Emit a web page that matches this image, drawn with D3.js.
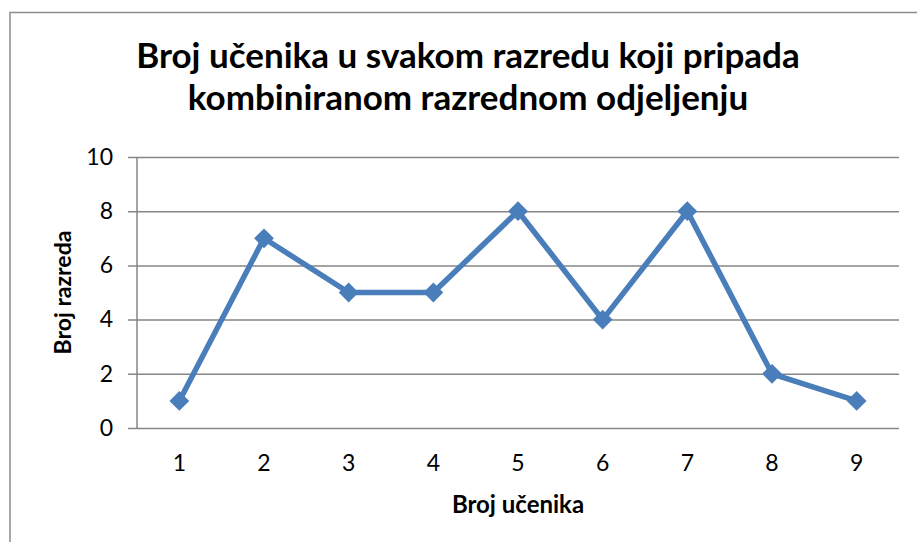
<!DOCTYPE html>
<html>
<head>
<meta charset="utf-8">
<script src="https://cdn.jsdelivr.net/npm/d3@7"></script>
<style>
  body { margin: 0; background: #fff; }
  text { font-family: Lato, "Open Sans", sans-serif; fill: #000; }
</style>
</head>
<body>
<svg id="chart" width="917" height="542"></svg>
<script>
// data
var categories = ["1", "2", "3", "4", "5", "6", "7", "8", "9"];
var values = [1, 7, 5, 5, 8, 4, 8, 2, 1];
var yTicks = [0, 2, 4, 6, 8, 10];
var titleLines = ["Broj učenika u svakom razredu koji pripada", "kombiniranom razrednom odjeljenju"];
var xTitle = "Broj učenika";
var yTitle = "Broj razreda";

var margin = { left: 137, right: 18, top: 157, bottom: 114 };
var width = 917 - margin.left - margin.right;
var height = 542 - margin.top - margin.bottom;

var svg = d3.select("#chart");

// chart border (runs off the right and bottom edge)
svg.append("rect")
    .attr("x", 10).attr("y", 12.5)
    .attr("width", 940).attr("height", 560)
    .attr("fill", "none")
    .attr("stroke", "#8c8c8c")
    .attr("stroke-width", 1.5);

// title
svg.append("text")
    .attr("x", 468)
    .attr("y", 68)
    .attr("text-anchor", "middle")
    .attr("font-size", "35px")
    .attr("font-weight", "bold")
  .selectAll("tspan")
  .data(titleLines)
  .enter().append("tspan")
    .attr("x", 468)
    .attr("dy", function(d, i) { return i === 0 ? 0 : 42; })
    .text(function(d) { return d; });

var g = svg.append("g")
    .attr("transform", "translate(" + margin.left + "," + margin.top + ")");

var x = d3.scaleBand().domain(categories).range([0, width]);
var y = d3.scaleLinear().domain([0, 10]).range([height, 0]);

// y axis with gridlines
var yAxis = g.append("g")
    .call(d3.axisLeft(y).tickValues(yTicks).tickSize(-width).tickPadding(24));
yAxis.select(".domain").remove();
yAxis.selectAll(".tick line")
    .attr("x1", -9)
    .attr("stroke", "#868686")
    .attr("stroke-width", 1.5);
yAxis.selectAll(".tick text")
    .attr("font-size", "23px")
    .attr("font-family", "Lato, sans-serif");

// vertical axis line
g.append("line")
    .attr("x1", 0).attr("x2", 0)
    .attr("y1", 0).attr("y2", height)
    .attr("stroke", "#868686")
    .attr("stroke-width", 1.5);

// x axis
var xAxis = g.append("g")
    .attr("transform", "translate(0," + height + ")")
    .call(d3.axisBottom(x).tickSize(0).tickPadding(27));
xAxis.select(".domain").remove();
xAxis.selectAll(".tick text")
    .attr("font-size", "23px")
    .attr("font-family", "Lato, sans-serif");

// axis titles
svg.append("text")
    .attr("x", margin.left + width / 2)
    .attr("y", 513)
    .attr("text-anchor", "middle")
    .attr("font-size", "24px")
    .attr("font-weight", "bold")
    .text(xTitle);

svg.append("text")
    .attr("transform", "translate(71," + (margin.top + height / 2) + ") rotate(-90)")
    .attr("text-anchor", "middle")
    .attr("font-size", "23px")
    .attr("font-weight", "bold")
    .text(yTitle);

// line
var line = d3.line()
    .x(function(d, i) { return x(categories[i]) + x.bandwidth() / 2; })
    .y(function(d) { return y(d); });

g.append("path")
    .datum(values)
    .attr("fill", "none")
    .attr("stroke", "#4a7ebb")
    .attr("stroke-width", 5.5)
    .attr("stroke-linejoin", "round")
    .attr("d", line);

// diamond markers
g.selectAll(".marker")
    .data(values)
  .enter().append("path")
    .attr("class", "marker")
    .attr("d", d3.symbol().type(d3.symbolDiamond2).size(250))
    .attr("transform", function(d, i) {
      return "translate(" + (x(categories[i]) + x.bandwidth() / 2) + "," + y(d) + ")";
    })
    .attr("fill", "#4a7ebb");
</script>
</body>
</html>
